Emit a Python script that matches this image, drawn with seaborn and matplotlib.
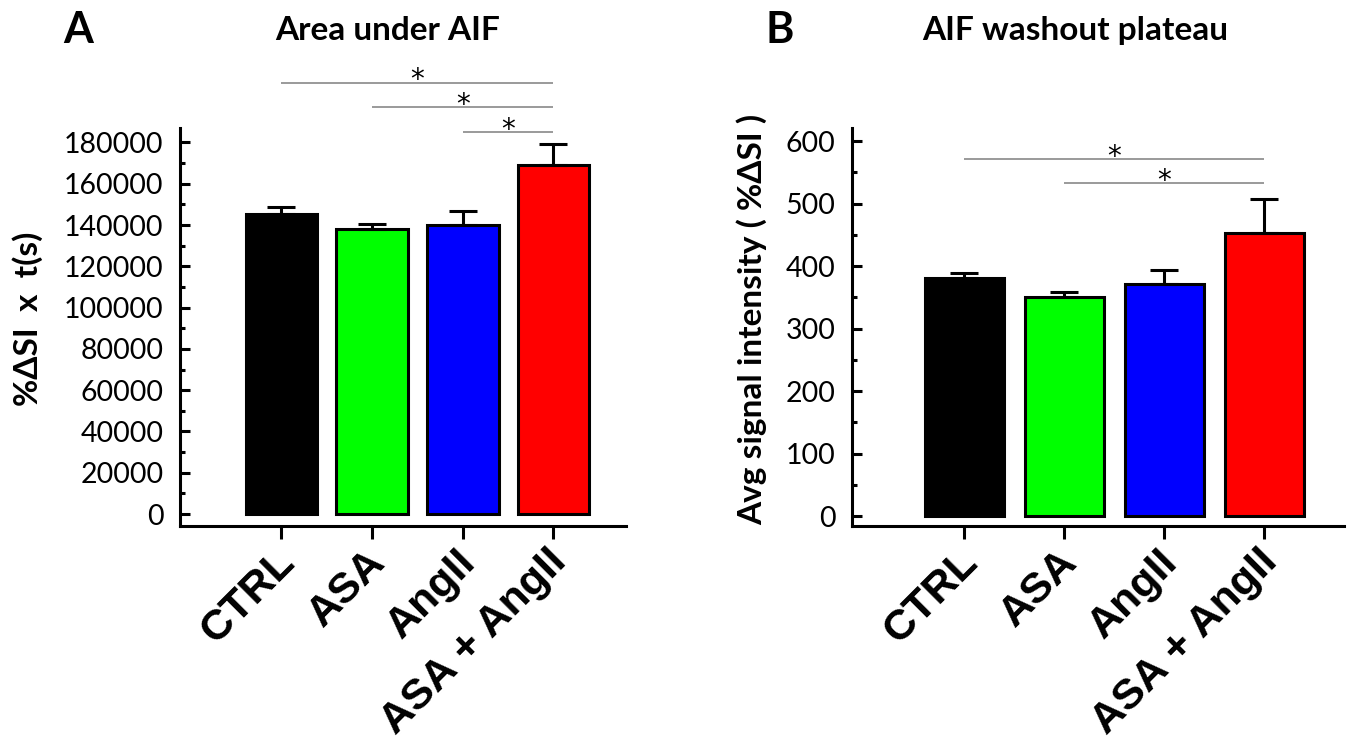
import matplotlib
matplotlib.use("Agg")
import pandas as pd
import seaborn as sns
import matplotlib.pyplot as plt
import matplotlib.transforms as mtransforms
from matplotlib.ticker import MultipleLocator

groups = ["CTRL", "ASA", "AngII", "ASA + AngII"]
colors = ["#000000", "#00ff00", "#0000ff", "#ff0000"]

area_mean = [145300, 138000, 140000, 169000]
area_sem = [3400, 2400, 6700, 10200]
area_sig = [(0, 3, 209000), (1, 3, 197000), (2, 3, 185000)]

plateau_mean = [381, 350, 371, 453]
plateau_sem = [8, 8, 23, 54]
plateau_sig = [(0, 3, 571), (1, 3, 533)]

sns.set_style("ticks")
plt.rcParams["font.family"] = ["Lato", "DejaVu Sans"]
for key in ["text.color", "axes.labelcolor", "axes.edgecolor",
            "xtick.color", "ytick.color"]:
    plt.rcParams[key] = "black"

fig = plt.figure(figsize=(13.58, 7.52), dpi=100)
ax_a = fig.add_axes([0.1325, 0.3005, 0.3284, 0.5293])
ax_b = fig.add_axes([0.6274, 0.3005, 0.3623, 0.5293])


def draw_panel(ax, means, sems, sig, ylim, major, minor, ylabel, label_x):
    df = pd.DataFrame({"group": groups, "value": means})
    sns.barplot(data=df, x="group", y="value", hue="group", palette=colors,
                order=groups, hue_order=groups, legend=False, errorbar=None,
                saturation=1, width=0.79, edgecolor="black", linewidth=2.2,
                ax=ax)
    ax.errorbar(range(len(groups)), means, yerr=[[0] * len(sems), sems],
                fmt="none", ecolor="black", elinewidth=2.2, capsize=10,
                capthick=2.2, zorder=5)

    # significance brackets
    for i, j, y in sig:
        ax.plot([i, j], [y, y], color="#7f7f7f", lw=1.1,
                solid_capstyle="butt", clip_on=False)
        ax.annotate("*", xy=((i + j) / 2, y), xytext=(0, -4),
                    textcoords="offset points", ha="center", va="baseline",
                    fontsize=20, family=["DejaVu Sans"],
                    annotation_clip=False)

    ax.set_xlim(-1.12, 3.8)
    ax.set_ylim(*ylim)
    ax.yaxis.set_major_locator(MultipleLocator(major))
    ax.yaxis.set_minor_locator(MultipleLocator(minor))
    sns.despine(ax=ax)
    for side in ["left", "bottom"]:
        ax.spines[side].set_linewidth(2.2)

    ax.tick_params(axis="y", which="major", direction="in", length=7,
                   width=2.2, pad=12, labelsize=20.5)
    ax.tick_params(axis="y", which="minor", direction="in", length=3.5,
                   width=2.2)
    ax.tick_params(axis="x", direction="out", length=9, width=2.2, pad=0)
    ax.set_xticks(range(len(groups)))
    ax.set_xticklabels(groups, rotation=45, ha="right", va="baseline",
                       rotation_mode="anchor", fontsize=31,
                       fontweight="bold", family=["Liberation Sans"])
    shift = mtransforms.ScaledTranslation(0.15, -0.25, fig.dpi_scale_trans)
    for lbl in ax.get_xticklabels():
        lbl.set_transform(lbl.get_transform() + shift)

    ax.set_xlabel("")
    ax.set_ylabel(ylabel, fontsize=24, fontweight="bold")
    ax.yaxis.set_label_coords(label_x, 0.52)


draw_panel(ax_a, area_mean, area_sem, area_sig, (-5800, 187000), 20000, 10000,
           "%\u0394SI  x  t(s)", -0.307)
draw_panel(ax_b, plateau_mean, plateau_sem, plateau_sig, (-16, 621), 100, 50,
           "Avg signal intensity ( %\u0394SI )", -0.173)

fig.text(78 / 1358, 1 - 43 / 752, "A", fontsize=31, fontweight="bold",
         ha="center", va="baseline")
fig.text(780 / 1358, 1 - 43 / 752, "B", fontsize=31, fontweight="bold",
         ha="center", va="baseline")
fig.text(388 / 1358, 1 - 40 / 752, "Area under AIF", fontsize=24,
         fontweight="bold", ha="center", va="baseline")
fig.text(1075 / 1358, 1 - 40 / 752, "AIF washout plateau", fontsize=24,
         fontweight="bold", ha="center", va="baseline")

fig.savefig("out.png", dpi=100)
